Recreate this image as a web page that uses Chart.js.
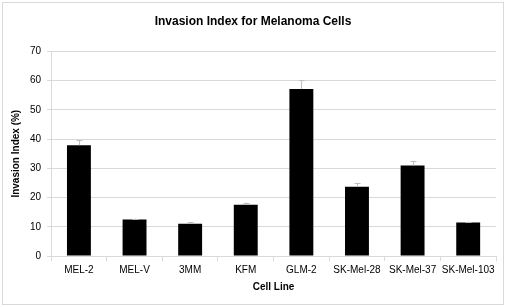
<!DOCTYPE html>
<html>
<head>
<meta charset="utf-8">
<script src="https://cdn.jsdelivr.net/npm/chart.js@4"></script>
<style>
html,body{margin:0;padding:0;background:#fff;}
#wrap{width:506px;height:307px;position:relative;}
</style>
</head>
<body>
<div id="wrap"><canvas id="c" width="506" height="307"></canvas></div>
<script>
const categories = ["MEL-2","MEL-V","3MM","KFM","GLM-2","SK-Mel-28","SK-Mel-37","SK-Mel-103"];
const invasionIndex = [37.9, 12.5, 11.0, 17.5, 57.1, 23.7, 31.0, 11.5];
const errorValues = [1.7, 0.3, 0.5, 0.8, 3.0, 1.2, 1.5, 0.3];
const yTicks = [0,10,20,30,40,50,60,70];

const errorBarPlugin = {
  id: 'errorBars',
  afterDatasetsDraw(chart) {
    const ctx = chart.ctx;
    const meta = chart.getDatasetMeta(0);
    const ys = chart.scales.y;
    ctx.save();
    ctx.strokeStyle = '#bfbfbf';
    ctx.lineWidth = 1;
    meta.data.forEach((bar, i) => {
      const v = invasionIndex[i], e = errorValues[i];
      const x = Math.round(bar.x) + 0.5;
      const yTop = ys.getPixelForValue(v + e);
      const yBot = ys.getPixelForValue(v);
      ctx.beginPath();
      ctx.moveTo(x, yBot);
      ctx.lineTo(x, yTop);
      ctx.moveTo(x - 3, Math.round(yTop) + 0.5);
      ctx.lineTo(x + 3, Math.round(yTop) + 0.5);
      ctx.stroke();
    });
    ctx.restore();
  }
};

const borderPlugin = {
  id: 'outerBorder',
  beforeDraw(chart) {
    const ctx = chart.ctx;
    ctx.save();
    ctx.fillStyle = '#fff';
    ctx.fillRect(0, 0, chart.width, chart.height);
    ctx.strokeStyle = '#d9d9d9';
    ctx.lineWidth = 1;
    ctx.strokeRect(2.5, 2.5, chart.width - 5, chart.height - 5);
    ctx.restore();
  }
};

new Chart(document.getElementById('c'), {
  type: 'bar',
  data: {
    labels: categories,
    datasets: [{
      data: invasionIndex,
      backgroundColor: '#000000',
      borderWidth: 0,
      categoryPercentage: 1.0,
      barPercentage: 0.43
    }]
  },
  options: {
    responsive: false,
    animation: false,
    devicePixelRatio: 1,
    layout: { padding: { left: 10, right: 10, top: 0, bottom: 14 } },
    plugins: {
      legend: { display: false },
      tooltip: { enabled: false },
      title: {
        display: true,
        text: 'Invasion Index for Melanoma Cells',
        color: '#000',
        font: { family: 'Liberation Sans', size: 12, weight: 'bold' },
        padding: { top: 14, bottom: 23 }
      }
    },
    scales: {
      x: {
        offset: true,
        grid: { display: true, offset: true, drawOnChartArea: false, color: '#d9d9d9', tickLength: 5 },
        border: { color: '#d9d9d9' },
        ticks: { color: '#000', font: { family: 'Liberation Sans', size: 10 }, padding: 3, maxRotation: 0, autoSkip: false },
        title: { display: true, text: 'Cell Line', color: '#000', font: { family: 'Liberation Sans', size: 10, weight: 'bold' }, padding: { top: 2, bottom: 0 } }
      },
      y: {
        min: 0, max: 70,
        afterBuildTicks(axis) { axis.ticks = yTicks.map(v => ({ value: v })); },
        grid: { color: '#d9d9d9', tickLength: 4 },
        border: { color: '#d9d9d9' },
        ticks: { color: '#000', font: { family: 'Liberation Sans', size: 10 }, padding: 6 },
        title: { display: true, text: 'Invasion Index (%)', color: '#000', font: { family: 'Liberation Sans', size: 10, weight: 'bold' }, padding: { top: 0, bottom: 2 } }
      }
    }
  },
  plugins: [borderPlugin, errorBarPlugin]
});
</script>
</body>
</html>
